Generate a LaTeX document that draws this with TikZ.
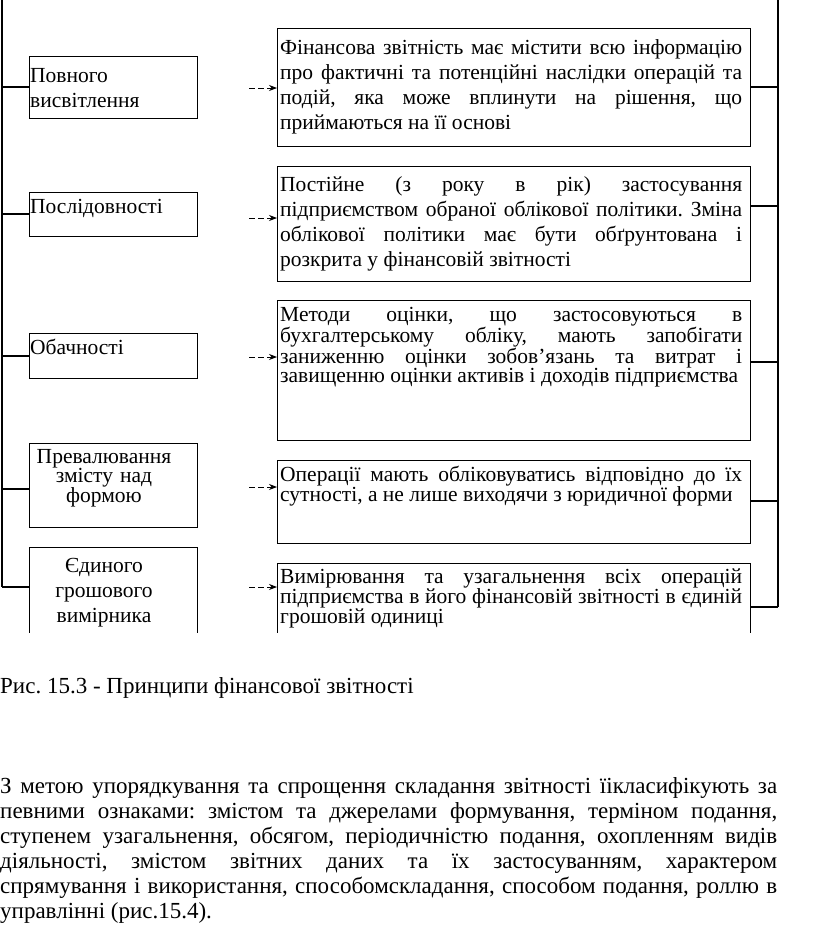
\documentclass[tikz,border=0pt]{standalone}
\usepackage{fontspec}
\setmainfont{Liberation Serif}
\usetikzlibrary{arrows.meta}
\hyphenpenalty=10000
\exhyphenpenalty=10000
\tolerance=10000
\frenchspacing

\tikzset{
  frame/.style={draw, line width=1.2pt, inner sep=0pt, anchor=north west},
  wide/.style={inner sep=0pt, anchor=base west, text width=462pt, align=justify},
  narrow/.style={inner sep=0pt, text width=166pt},
  loose/.style={font=\fontsize{21.5}{25}\selectfont},
  tight/.style={font=\fontsize{21.5}{19}\selectfont},
  body/.style={font=\fontsize{23}{25}\selectfont},
  spine/.style={line width=1.2pt},
  darr/.style={line width=0.8pt, dash pattern=on 6pt off 3pt, -{Stealth[length=8pt,width=6pt]}}
}

\begin{document}
\begin{tikzpicture}[x=1pt,y=-1pt]
\useasboundingbox (0,0) rectangle (816,935);

\begin{scope}
\clip (-5,-5) rectangle (821,632);

% Draw principle boxes
\node[frame, minimum width=168pt, minimum height=62pt] (L1) at (29,56) {};
\node[frame, minimum width=168pt, minimum height=44pt] (L2) at (29,192) {};
\node[frame, minimum width=168pt, minimum height=45pt] (L3) at (29,333) {};
\node[frame, minimum width=168pt, minimum height=84pt] (L4) at (29,443) {};
\node[frame, minimum width=168pt, minimum height=100pt] (L5) at (29,547) {};

% Draw description boxes
\node[frame, minimum width=473pt, minimum height=118pt] (R1) at (277,28) {};
\node[frame, minimum width=473pt, minimum height=115pt] (R2) at (277,166) {};
\node[frame, minimum width=473pt, minimum height=140pt] (R3) at (277,300) {};
\node[frame, minimum width=473pt, minimum height=83pt] (R4) at (277,460) {};
\node[frame, minimum width=473pt, minimum height=100pt] (R5) at (277,563) {};

% Principle names
\node[narrow, loose, anchor=base west, align=left] (n1) at (30,82) {Повного\\висвітлення};
\node[narrow, loose, anchor=base west, align=left] (n2) at (30,213) {Послідовності};
\node[narrow, loose, anchor=base west, align=left] (n3) at (30,354) {Обачності};
\node[narrow, tight, anchor=base, align=center] (n4) at (104,463) {Превалювання\\змісту над\\формою};
\node[narrow, loose, anchor=base, align=center] (n5) at (104,572) {Єдиного\\грошового\\вимірника};

% Descriptions
\node[wide, loose] (d1) at (280,54) {Фінансова звітність має містити всю інформацію\linebreak
  про фактичні та потенційні наслідки операцій та\linebreak
  подій, яка може вплинути на рішення, що\linebreak
  приймаються на її основі};
\node[wide, loose] (d2) at (280,191) {Постійне (з року в рік) застосування\linebreak
  підприємством обраної облікової політики. Зміна\linebreak
  облікової політики має бути обґрунтована і\linebreak
  розкрита у фінансовій звітності};
\node[wide, tight] (d3) at (280,321) {Методи оцінки, що застосовуються в\linebreak
  бухгалтерському обліку, мають запобігати\linebreak
  заниженню оцінки зобов’язань та витрат і\linebreak
  завищенню оцінки активів і доходів підприємства};
\node[wide, tight] (d4) at (280,481) {Операції мають обліковуватись відповідно до їх\linebreak
  сутності, а не лише виходячи з юридичної форми};
\node[wide, tight] (d5) at (280,583) {Вимірювання та узагальнення всіх операцій\linebreak
  підприємства в його фінансовій звітності в єдиній\linebreak
  грошовій одиниці};

% Left spine and its branches
\coordinate (ltop) at (2,0);
\coordinate (lbot) at (2,587);
\draw[spine] (ltop) -- (lbot);
\foreach \i/\y in {1/87,2/214,3/356,4/489,5/587} {
  \coordinate (lt\i) at (2,\y);
  \draw[spine] (lt\i) -- (lt\i -| L\i.west);
}

% Right spine and its branches
\coordinate (rtop) at (778,0);
\coordinate (rbot) at (778,607);
\draw[spine] (rtop) -- (rbot);
\foreach \i/\y in {1/87,2/206,3/362,4/501,5/607} {
  \coordinate (rt\i) at (778,\y);
  \draw[spine] (rt\i) -- (rt\i -| R\i.east);
}

% Dashed arrows
\foreach \i/\y in {1/88,2/218,3/357,4/487,5/587} {
  \coordinate (a\i) at (249,\y);
  \draw[darr] (a\i) -- (a\i -| R\i.west);
}
\end{scope}

% Caption and text below
\node[inner sep=0pt, anchor=base west, body] (cap) at (0,693) {Рис. 15.3 - Принципи фінансової звітності};
\node[inner sep=0pt, anchor=base west, text width=777pt, align=justify, body] (para) at (0,793)
  {З метою упорядкування та спрощення складання звітності їікласифікують за\linebreak
  певними ознаками: змістом та джерелами формування, терміном подання,\linebreak
  ступенем узагальнення, обсягом, періодичністю подання, охопленням видів\linebreak
  діяльності, змістом звітних даних та їх застосуванням, характером\linebreak
  спрямування і використання, способомскладання, способом подання, роллю в\linebreak
  управлінні (рис.15.4).};
\end{tikzpicture}
\end{document}
